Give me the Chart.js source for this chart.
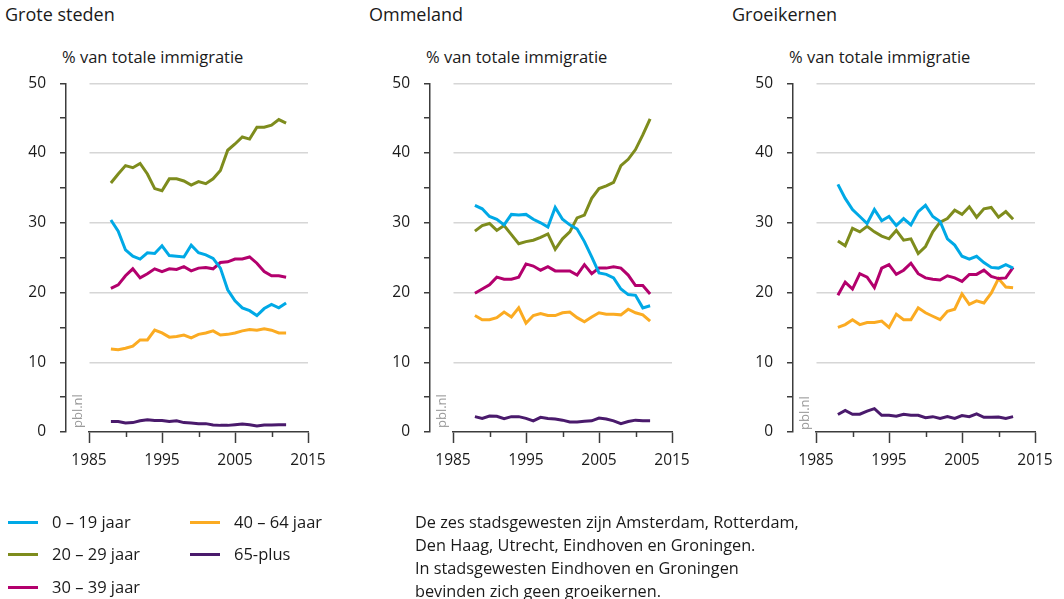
<!doctype html>
<html>
<head>
  <meta charset="utf-8" />
  <title>Immigratie naar leeftijd</title>
  <style>
    body{margin:0;background:#fff;font-family:"Open Sans", "Noto Sans", sans-serif;color:#1a1a1a}
    #wrap{position:relative;width:1064px;height:599px;overflow:hidden}
    canvas{position:absolute;top:60px}
    .title{position:absolute;top:2px;font-size:18px}
    .ytitle{position:absolute;top:45px;font-size:16.5px;white-space:nowrap}
    .src{position:absolute;font-size:13px;line-height:13px;color:#9a9a9a;transform-origin:0 0;transform:rotate(-90deg)}
    .leg{position:absolute;font-size:16.5px;line-height:20px}
    .leg i{position:absolute;width:30px;height:3px;top:9px}
    .leg span{position:absolute;left:44px;white-space:nowrap}
    .note{position:absolute;left:415px;top:511px;font-size:16.3px;line-height:23px;white-space:nowrap}
  </style>
</head>
<body>
<div id="wrap">
  <div class="title" style="left:5px">Grote steden</div>
  <div class="title" style="left:369px">Ommeland</div>
  <div class="title" style="left:732px">Groeikernen</div>
  <div class="ytitle" style="left:62px">% van totale immigratie</div>
  <div class="ytitle" style="left:426px">% van totale immigratie</div>
  <div class="ytitle" style="left:789px">% van totale immigratie</div>
  <canvas id="c1" width="340" height="420" style="left:0px"></canvas>
  <canvas id="c2" width="340" height="420" style="left:364px"></canvas>
  <canvas id="c3" width="340" height="420" style="left:727px"></canvas>
  <div class="src" style="left:71px;top:428px">pbl.nl</div>
  <div class="src" style="left:435px;top:428px">pbl.nl</div>
  <div class="src" style="left:798px;top:430px">pbl.nl</div>
  <div id="legend"></div>
  <div class="note">De zes stadsgewesten zijn Amsterdam, Rotterdam,<br>Den Haag, Utrecht, Eindhoven en Groningen.<br>In stadsgewesten Eindhoven en Groningen<br>bevinden zich geen groeikernen.</div>
</div>

<script src="https://cdn.jsdelivr.net/npm/chart.js@4.4.1/dist/chart.umd.min.js"></script>
<script>
  // jaren en leeftijdsgroepen
  const years = [1988,1989,1990,1991,1992,1993,1994,1995,1996,1997,1998,1999,2000,
                 2001,2002,2003,2004,2005,2006,2007,2008,2009,2010,2011,2012];
  const groups = ['0 – 19 jaar','20 – 29 jaar','30 – 39 jaar','40 – 64 jaar','65-plus'];
  const colors = ['#00a9e6','#7e8c1d','#b3006d','#fbab22','#4a1a6c'];
  const xTicks = [1985,1995,2005,2015];
  const xMinor = [1990,2000,2010];

  // Grote steden
  const grote_0_19  = [30.4,28.8,26.1,25.2,24.8,25.7,25.6,26.7,25.3,25.2,25.1,26.8,25.7,25.4,24.9,23.5,20.4,18.8,17.8,17.4,16.7,17.7,18.3,17.8,18.5];
  const grote_20_29 = [35.7,37.0,38.2,37.9,38.5,37.0,34.9,34.6,36.3,36.3,36.0,35.4,35.9,35.6,36.3,37.5,40.4,41.3,42.3,42.0,43.7,43.7,44.0,44.8,44.3];
  const grote_30_39 = [20.6,21.1,22.4,23.4,22.1,22.7,23.4,23.0,23.4,23.3,23.7,23.1,23.5,23.6,23.4,24.3,24.4,24.8,24.8,25.1,24.2,23.0,22.4,22.4,22.2];
  const grote_40_64 = [11.9,11.8,12.0,12.3,13.2,13.2,14.6,14.2,13.6,13.7,13.9,13.5,14.0,14.2,14.5,13.9,14.0,14.2,14.5,14.7,14.6,14.8,14.6,14.2,14.2];
  const grote_65    = [1.5,1.5,1.3,1.35,1.6,1.75,1.65,1.65,1.5,1.6,1.35,1.3,1.2,1.2,1.0,0.95,0.95,1.05,1.15,1.05,0.85,1.0,1.0,1.05,1.05];

  // Ommeland
  const omme_0_19  = [32.5,32.0,30.9,30.5,29.7,31.2,31.1,31.2,30.5,30.0,29.4,32.2,30.5,29.7,29.1,27.3,25.1,22.8,22.6,22.1,20.5,19.7,19.6,17.8,18.1];
  const omme_20_29 = [28.8,29.6,29.9,28.9,29.6,28.3,27.0,27.3,27.5,27.9,28.4,26.2,27.7,28.7,30.7,31.1,33.5,34.9,35.3,35.8,38.2,39.1,40.5,42.6,44.9];
  const omme_30_39 = [19.9,20.5,21.1,22.2,21.9,21.9,22.2,24.1,23.8,23.2,23.7,23.1,23.1,23.1,22.5,24.0,22.7,23.5,23.5,23.7,23.5,22.5,21.0,21.0,19.8];
  const omme_40_64 = [16.7,16.1,16.1,16.4,17.2,16.5,17.8,15.6,16.7,17.0,16.7,16.7,17.1,17.2,16.4,15.8,16.5,17.1,16.9,16.9,16.8,17.6,17.1,16.8,15.9];
  const omme_65    = [2.2,1.95,2.3,2.25,1.9,2.2,2.2,1.95,1.6,2.1,1.95,1.85,1.7,1.45,1.45,1.55,1.6,2.0,1.85,1.6,1.2,1.5,1.7,1.6,1.6];

  // Groeikernen
  const groei_0_19  = [35.5,33.5,31.9,30.9,29.9,31.9,30.3,30.9,29.6,30.6,29.7,31.6,32.5,30.9,30.2,27.7,26.8,25.2,24.8,25.2,24.3,23.6,23.5,24.0,23.5];
  const groei_20_29 = [27.4,26.7,29.2,28.7,29.5,28.7,28.1,27.7,28.9,27.5,27.7,25.6,26.6,28.7,30.1,30.6,31.8,31.2,32.3,30.8,32.0,32.2,30.8,31.6,30.5];
  const groei_30_39 = [19.6,21.5,20.5,22.7,22.2,20.7,23.5,24.0,22.6,23.2,24.2,22.7,22.1,21.9,21.8,22.4,22.1,21.6,22.6,22.6,23.2,22.3,22.0,22.1,23.6];
  const groei_40_64 = [15.0,15.4,16.1,15.4,15.7,15.7,15.9,15.0,16.9,16.1,16.1,17.8,17.1,16.6,16.1,17.3,17.6,19.8,18.3,18.8,18.5,19.9,22.0,20.8,20.7];
  const groei_65    = [2.5,3.1,2.55,2.55,3.0,3.35,2.4,2.4,2.25,2.55,2.4,2.4,2.05,2.2,1.95,2.2,1.95,2.35,2.2,2.6,2.1,2.1,2.15,1.95,2.2];

  const tickFont = { family: '"Open Sans", "Noto Sans", sans-serif', size: 15.5 };
  const axisColor = '#3c3c3c';

  // korte tussenstreepjes op de x-as (1990, 2000, 2010)
  const minorTicks = {
    id: 'minorTicks',
    afterDraw(chart){
      const x = chart.scales.x, c = chart.ctx;
      c.save();
      c.strokeStyle = axisColor;
      c.lineWidth = 1.5;
      xMinor.forEach(v=>{
        const px = Math.round(x.getPixelForValue(v)) + 0.5;
        c.beginPath();
        c.moveTo(px, x.top);
        c.lineTo(px, x.top + 5);
        c.stroke();
      });
      c.restore();
    }
  };

  function makePanel(id, series){
    new Chart(document.getElementById(id), {
      type: 'line',
      data: {
        datasets: series.map((s,i)=>({
          label: groups[i],
          data: years.map((y,j)=>({x:y, y:s[j]})),
          xAxisID: 'x',
          yAxisID: 'y',
          borderColor: colors[i],
          borderWidth: 3,
          pointRadius: 0,
          tension: 0,
          fill: false
        }))
      },
      options: {
        responsive: false,
        animation: false,
        layout: { padding: { left: 0, right: 32, top: 20, bottom: 0 } },
        plugins: { legend: { display: false }, tooltip: { enabled: false } },
        scales: {
          x: {
            type: 'linear', min: 1985, max: 2015,
            afterBuildTicks: s => { s.ticks = xTicks.map(v=>({value:v})); },
            grid: { drawOnChartArea: false, tickLength: 11, tickColor: axisColor, tickWidth: 1.5 },
            border: { color: axisColor, width: 1.5 },
            ticks: { padding: 8, color: '#1a1a1a', font: tickFont, maxRotation: 0, autoSkip: false, callback: v => String(v) },
            afterFit: s => { s.height = 48; }
          },
          y: {
            type: 'linear', position: 'left', weight: 1, min: 0, max: 50,
            ticks: { stepSize: 5, padding: 14, color: '#1a1a1a', font: tickFont, callback: v => v % 10 === 0 ? v : '' },
            grid: {
              color: c => (c.tick && c.tick.value % 10 === 0 && c.tick.value > 0) ? '#d6d6d6' : 'rgba(0,0,0,0)',
              lineWidth: 1.5,
              tickColor: axisColor, tickLength: 6, tickWidth: 1.5
            },
            border: { color: axisColor, width: 1.5 },
            afterFit: s => { s.width = 66; }
          },
          pad: {
            type: 'linear', position: 'left', weight: 0,
            grid: { display: false }, ticks: { display: false }, border: { display: false },
            afterFit: s => { s.width = 23; }
          }
        }
      },
      plugins: [minorTicks]
    });
  }

  makePanel('c1', [grote_0_19, grote_20_29, grote_30_39, grote_40_64, grote_65]);
  makePanel('c2', [omme_0_19, omme_20_29, omme_30_39, omme_40_64, omme_65]);
  makePanel('c3', [groei_0_19, groei_20_29, groei_30_39, groei_40_64, groei_65]);

  // legenda
  const legPos = [[8,512],[8,544],[8,577],[190,512],[190,544]];
  const leg = document.getElementById('legend');
  groups.forEach((g,i)=>{
    const d = document.createElement('div');
    d.className = 'leg';
    d.style.left = legPos[i][0] + 'px';
    d.style.top = legPos[i][1] + 'px';
    d.innerHTML = '<i style="background:' + colors[i] + '"></i><span>' + g + '</span>';
    leg.appendChild(d);
  });
</script>
</body>
</html>
